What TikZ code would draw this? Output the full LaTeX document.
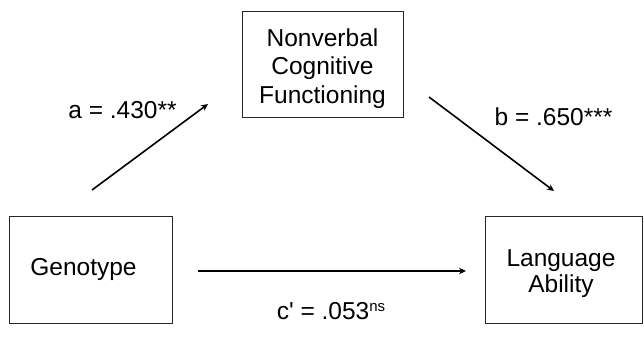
\documentclass[tikz,border=0pt]{standalone}
\usepackage{fontspec}
\setmainfont{Liberation Sans}
\usetikzlibrary{arrows.meta}
\begin{document}
\begin{tikzpicture}[x=1pt,y=-1pt,
  txt/.style={font=\fontsize{24.5}{28.5}\selectfont},
  box/.style={draw=black!85, line width=1pt, inner sep=0pt},
  btxt/.style={txt, inner sep=0pt, align=center},
  conn/.style={line width=1.6pt, -{Stealth[length=7pt,width=6.5pt]}},
  lbl/.style={txt, inner sep=0pt, anchor=base}]
\useasboundingbox (0,0) rectangle (644,346);
\node[box, minimum width=161pt, minimum height=106pt] (nv) at (322.5,64) {};
\node[btxt] (nvt) at (322.5,68.5) {Nonverbal\\Cognitive\\Functioning};
\node[box, minimum width=163pt, minimum height=107pt] (geno) at (90.5,269.5) {};
\node[btxt] (genot) at (83.5,269.5) {Genotype};
\node[box, minimum width=157pt, minimum height=107pt] (lang) at (563.5,269.5) {};
\node[btxt, font=\fontsize{24.5}{26}\selectfont] (langt) at (561,274) {Language\\Ability};
\coordinate (a1) at (92,190);
\coordinate (a2) at (208,104);
\coordinate (b1) at (429,97);
\coordinate (b2) at (554,191);
\coordinate (c1) at (198,271);
\coordinate (c2) at (466,271);
\draw[conn] (a1) -- (a2);
\draw[conn] (b1) -- (b2);
\draw[conn, line width=2.2pt] (c1) -- (c2);
\node[lbl] (la) at (122.5,118) {a = .430**};
\node[lbl] (lb) at (553.5,125) {b = .650***};
\node[lbl] (lc) at (331,319) {c\textquotesingle{} = .053\raisebox{7.5pt}{\fontsize{15}{15}\selectfont ns}};
\end{tikzpicture}
\end{document}
